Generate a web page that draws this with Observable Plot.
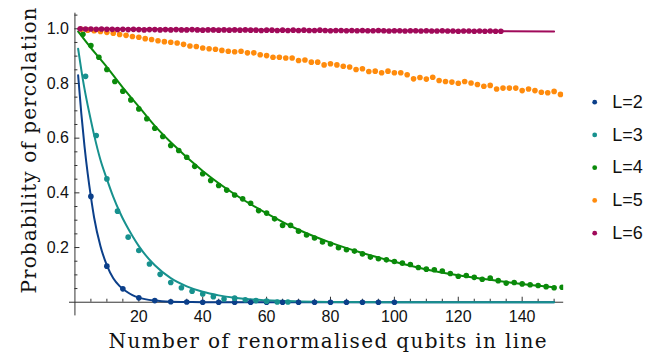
<!DOCTYPE html>
<html><head><meta charset="utf-8">
<script src="https://cdn.jsdelivr.net/npm/d3@7"></script>
<script src="https://cdn.jsdelivr.net/npm/@observablehq/plot@0.6"></script>
<style>body{margin:0;background:#fff}</style>
</head><body><div id="chart"></div>
<script>
// ---------- data ----------
const labels = ["L=2", "L=3", "L=4", "L=5", "L=6"];
const colors = ["#0b3f8a", "#17918e", "#0a8a0a", "#ff8b0c", "#a00a5a"];

const l2X = [5,10,15,20,25,30,35,40,45,50,55,60,65,70,75,80,85,90,95,100];
const l2Y = [0.387,0.132,0.049,0.016,0.006,0.002,0.001,0,0,0,0,0,0,0,0,0,0,0,0,0];

const l3X = [3.33,6.67,10,13.33,16.67,20,23.33,26.67,30,33.33,36.67,40,43.33,46.67,50,53.33,56.67,60,63.33,66.67];
const l3Y = [0.826,0.61,0.451,0.333,0.238,0.189,0.14,0.102,0.072,0.053,0.04,0.03,0.02,0.012,0.015,0.009,0.006,0.004,0.001,0.001];

const l4X = [2.5,5,7.5,10,12.5,15,17.5,20,22.5,25,27.5,30,32.5,35,37.5,40,42.5,45,47.5,50,
  52.5,55,57.5,60,62.5,65,67.5,70,72.5,75,77.5,80,82.5,85,87.5,90,92.5,95,97.5,100,
  102.5,105,107.5,110,112.5,115,117.5,120,122.5,125,127.5,130,132.5,135,137.5,140,142.5,145,147.5,150,152.5];
const l4Y = [0.98,0.939,0.896,0.851,0.807,0.772,0.74,0.707,0.671,0.636,0.606,0.573,0.555,0.53,0.497,0.47,0.445,0.427,0.41,0.392,
  0.378,0.362,0.335,0.326,0.305,0.281,0.281,0.26,0.246,0.235,0.22,0.213,0.199,0.192,0.187,0.177,0.165,0.159,0.155,0.149,
  0.143,0.138,0.127,0.121,0.119,0.114,0.105,0.095,0.098,0.091,0.084,0.088,0.079,0.07,0.072,0.067,0.064,0.061,0.057,0.053,0.055];

const l5X = [2,4,6,8,10,12,14,16,18,20,22,24,26,28,30,32,34,36,38,40,42,44,46,48,50,
  52,54,56,58,60,62,64,66,68,70,72,74,76,78,80,82,84,86,88,90,92,94,96,98,100,
  102,104,106,108,110,112,114,116,118,120,122,124,126,128,130,132,134,136,138,140,142,144,146,148,150,152,154];
const l5Y = [0.998,0.995,0.993,0.99,0.987,0.984,0.979,0.976,0.972,0.969,0.964,0.961,0.956,0.953,0.951,0.948,0.943,0.937,0.935,0.93,0.927,0.925,0.921,0.918,0.916,
  0.918,0.912,0.912,0.905,0.902,0.896,0.896,0.893,0.893,0.884,0.886,0.878,0.878,0.868,0.872,0.868,0.863,0.86,0.851,0.854,0.844,0.845,0.839,0.845,0.839,
  0.839,0.832,0.817,0.822,0.816,0.823,0.811,0.807,0.805,0.801,0.807,0.802,0.796,0.79,0.793,0.78,0.783,0.783,0.783,0.774,0.78,0.774,0.768,0.766,0.771,0.76,0.75];

const l6X = [1.67,3.33,5,6.67,8.33,10,11.67,13.33,15,16.67,18.33,20,21.67,23.33,25,26.67,28.33,30,31.67,33.33,
  35,36.67,38.33,40,41.67,43.33,45,46.67,48.33,50,51.67,53.33,55,56.67,58.33,60,61.67,63.33,65,66.67,
  68.33,70,71.67,73.33,75,76.67,78.33,80,81.67,83.33,85,86.67,88.33,90,91.67,93.33,95,96.67,98.33,100,
  101.67,103.33,105,106.67,108.33,110,111.67,113.33,115,116.67,118.33,120,121.67,123.33,125,126.67,128.33,130,131.67,133.33];
const l6Y = [1.0,0.999,0.999,0.998,0.999,0.998,0.998,0.997,0.998,0.997,0.998,0.997,0.996,0.997,0.997,0.996,0.997,0.996,0.997,0.996,
  0.996,0.997,0.996,0.995,0.996,0.996,0.995,0.996,0.995,0.996,0.995,0.996,0.995,0.995,0.994,0.995,0.995,0.994,0.995,0.994,
  0.995,0.994,0.995,0.994,0.994,0.995,0.994,0.993,0.994,0.994,0.993,0.994,0.993,0.994,0.993,0.993,0.994,0.993,0.992,0.993,
  0.993,0.992,0.993,0.993,0.992,0.993,0.992,0.992,0.993,0.992,0.992,0.991,0.992,0.992,0.991,0.992,0.991,0.992,0.991,0.991];

// fitted curves
const fit2X = [1,2,3,4,5,6,8,10,12,14,16,18,20,25,30,35,40,60,100,150];
const fit2Y = [0.83,0.69,0.57,0.47,0.385,0.31,0.205,0.135,0.088,0.059,0.04,0.026,0.017,0.006,0.002,0.001,0,0,0,0];
const fit3X = [1,2,3,4,5,6,8,10,12,14,16,18,20,25,30,35,40,45,50,60,70,80,100,150];
const fit3Y = [0.927,0.85,0.78,0.72,0.665,0.612,0.52,0.45,0.385,0.33,0.283,0.242,0.205,0.135,0.088,0.058,0.038,0.025,0.016,0.007,0.003,0.001,0,0];
const fit4X = [1,5,10,15,20,25,30,40,50,60,70,80,90,100,110,120,130,140,150];
const fit4Y = [0.99,0.93,0.86,0.785,0.715,0.645,0.585,0.48,0.395,0.325,0.265,0.218,0.18,0.148,0.12,0.099,0.082,0.067,0.055];
const fit6X = [1,30,60,90,120,150];
const fit6Y = [1.0,0.998,0.996,0.994,0.992,0.99];

const xMajor = [20,40,60,80,100,120,140];
const xMinor = [5,10,15,25,30,35,45,50,55,65,70,75,85,90,95,105,110,115,125,130,135,145,150];
const yMajor = [0.2,0.4,0.6,0.8,1.0];
const yMinor = [0.05,0.1,0.15,0.25,0.3,0.35,0.45,0.5,0.55,0.65,0.7,0.75,0.85,0.9,0.95,1.05];

const xTitle = "Number of renormalised qubits in line";
const yTitle = "Probability of percolation";

// ---------- build ----------
const pts = (xs, ys) => xs.map((x, i) => ({x, y: ys[i]}));
const dotSets = [pts(l2X,l2Y), pts(l3X,l3Y), pts(l4X,l4Y), pts(l5X,l5Y), pts(l6X,l6Y)];
const fitSets = [[0, pts(fit2X,fit2Y)], [1, pts(fit3X,fit3Y)], [2, pts(fit4X,fit4Y)], [4, pts(fit6X,fit6Y)]];

const W = 646, H = 364;
const mL = 69, mR = 82.8, mT = 12.7, mB = 48.6;
const xDom = [-1.7, 153], yDom = [-0.05, 1.057];
const pxX = (W - mL - mR) / (xDom[1] - xDom[0]);
const pxY = (H - mT - mB) / (yDom[1] - yDom[0]);
const axisColor = "#333";
const sans = "'Liberation Sans', Arial, sans-serif";
const serif = "'DejaVu Serif', serif";

const marks = [
  Plot.ruleY([0], {stroke: axisColor, strokeWidth: 1}),
  Plot.ruleX([0], {stroke: axisColor, strokeWidth: 1}),
  Plot.ruleX(xMinor, {x: d => d, y1: 0, y2: 3 / pxY, stroke: axisColor}),
  Plot.ruleX(xMajor, {x: d => d, y1: 0, y2: 5 / pxY, stroke: axisColor}),
  Plot.ruleY(yMinor, {y: d => d, x1: 0, x2: 3 / pxX, stroke: axisColor}),
  Plot.ruleY(yMajor, {y: d => d, x1: 0, x2: 5 / pxX, stroke: axisColor}),
  Plot.text(xMajor, {x: d => d, y: 0, dy: 15, text: d => String(d), fontSize: 16, fontFamily: sans, fill: "#111"}),
  Plot.text(yMajor, {x: 0, y: d => d, dx: -6, textAnchor: "end", text: d => d.toFixed(1), fontSize: 16, fontFamily: sans, fill: "#111"}),
];
for (const [ci, data] of fitSets) {
  marks.push(Plot.line(data, {x: "x", y: "y", stroke: colors[ci], strokeWidth: 2, curve: "monotone-x"}));
}
dotSets.forEach((data, ci) => {
  marks.push(Plot.dot(data, {x: "x", y: "y", r: 2.8, fill: colors[ci], stroke: "none", clip: true}));
});
labels.forEach((lab, i) => {
  marks.push(Plot.dot([lab], {frameAnchor: "top-right", dx: 31, dy: 89 + 32.75 * i, r: 2.4, fill: colors[i], stroke: "none"}));
  marks.push(Plot.text([lab], {frameAnchor: "top-right", dx: 48.5, dy: 89 + 32.75 * i, text: d => d, textAnchor: "start", lineAnchor: "middle", fontSize: 18, fontFamily: sans, fill: "#111"}));
});
marks.push(Plot.text([xTitle], {frameAnchor: "bottom", dx: 11, dy: 31.6, textAnchor: "middle", lineAnchor: "bottom", text: d => d, fontSize: 20, fontFamily: serif, fill: "#111", ariaDescription: "xtitle"}));
marks.push(Plot.text([yTitle], {frameAnchor: "left", dx: -34, dy: -14, rotate: -90, textAnchor: "middle", lineAnchor: "bottom", text: d => d, fontSize: 20, fontFamily: serif, fill: "#111", ariaDescription: "ytitle"}));

const chart = Plot.plot({
  width: W, height: H,
  marginLeft: mL, marginRight: mR, marginTop: mT, marginBottom: mB,
  x: {domain: xDom, axis: null},
  y: {domain: yDom, axis: null},
  style: {background: "#fff", overflow: "visible"},
  marks
});
// widen the serif titles to match the reference's wide serif face
d3.select(chart).selectAll('g[aria-description="xtitle"] text').attr("textLength", 438).attr("lengthAdjust", "spacing");
d3.select(chart).selectAll('g[aria-description="ytitle"] text').attr("textLength", 286).attr("lengthAdjust", "spacing");
document.getElementById("chart").appendChild(chart);
</script>
</body></html>
